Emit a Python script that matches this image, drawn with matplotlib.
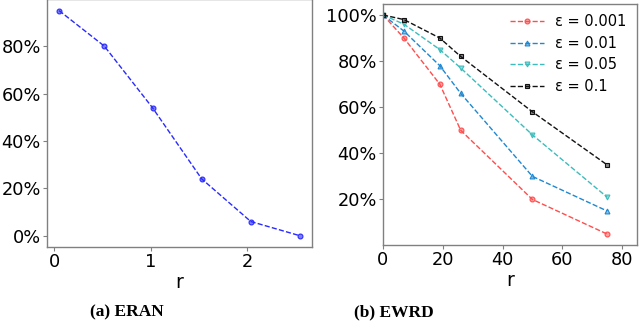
import matplotlib
matplotlib.use("Agg")
import matplotlib.pyplot as plt
from matplotlib.colors import to_rgba
from matplotlib.ticker import PercentFormatter

# ---- data ----
eran_r = [0.05, 0.52, 1.02, 1.53, 2.04, 2.55]
eran_vals = [0.95, 0.80, 0.54, 0.24, 0.06, 0.00]

ewrd_r = [0, 7, 19, 26, 50, 75]
ewrd_labels = ["ε = 0.001", "ε = 0.01", "ε = 0.05", "ε = 0.1"]
ewrd_001 = [1.00, 0.90, 0.70, 0.50, 0.20, 0.05]
ewrd_01 = [1.00, 0.93, 0.78, 0.66, 0.30, 0.15]
ewrd_05 = [1.00, 0.96, 0.85, 0.77, 0.48, 0.21]
ewrd_1 = [1.00, 0.98, 0.90, 0.82, 0.58, 0.35]

captions = ["(a) ERAN", "(b) EWRD"]

plt.rcParams['font.family'] = ['DejaVu Sans']
fig = plt.figure(figsize=(6.4, 3.35), dpi=100)

frame_col = '#808080'
tick_fs = 12.8

ax1 = fig.add_axes([47/640, (335-247)/335, 265/640, 247/335 + 0.002])
ax2 = fig.add_axes([383/640, (335-245)/335, 254/640, 241/335])

for ax in (ax1, ax2):
    for s in ax.spines.values():
        s.set_color(frame_col)
        s.set_linewidth(1.0)
    ax.tick_params(labelsize=tick_fs, color=frame_col, length=3, width=0.8, pad=1.5)
    ax.yaxis.set_major_formatter(PercentFormatter(1.0, decimals=0))

ax1.plot(eran_r, eran_vals, linestyle='--', color='#2a2aff', linewidth=1.0,
         marker='o', markersize=3.5, markerfacecolor=to_rgba('#2a2aff', 0.6),
         markeredgecolor='#2a2aff', markeredgewidth=0.8)
ax1.set_xticks([0, 1, 2])
ax1.set_yticks([0, 0.2, 0.4, 0.6, 0.8])
ax1.set_xlabel('r', fontsize=13.5, labelpad=1)

series = [ewrd_001, ewrd_01, ewrd_05, ewrd_1]
colors = ['#ff4d4d', '#1f88d0', '#3cbcbc', '#111111']
markers = ['o', '^', 'v', 's']
for vals, c, m, lab in zip(series, colors, markers, ewrd_labels):
    ax2.plot(ewrd_r, vals, linestyle='--', color=c, linewidth=1.0, marker=m,
             markersize=3.5, markerfacecolor=to_rgba(c, 0.5), markeredgecolor=c,
             markeredgewidth=0.8, label=lab)
ax2.set_xlim(0, 85)
ax2.set_xticks([0, 20, 40, 60, 80])
ax2.set_yticks([0.2, 0.4, 0.6, 0.8, 1.0])
ax2.set_xlabel('r', fontsize=13.5, labelpad=1)
ax2.legend(loc='upper right', frameon=False, fontsize=10.5, handlelength=2.3,
           labelspacing=0.45, borderaxespad=0.3, handletextpad=0.8)

fig.text(127/640, 1 - 312/335, captions[0], ha='center', va='center',
         fontsize=12.5, fontweight='bold', family='Liberation Serif')
fig.text(394/640, 1 - 312/335, captions[1], ha='center', va='center',
         fontsize=12.5, fontweight='bold', family='Liberation Serif')

fig.savefig('out.png', dpi=100)
